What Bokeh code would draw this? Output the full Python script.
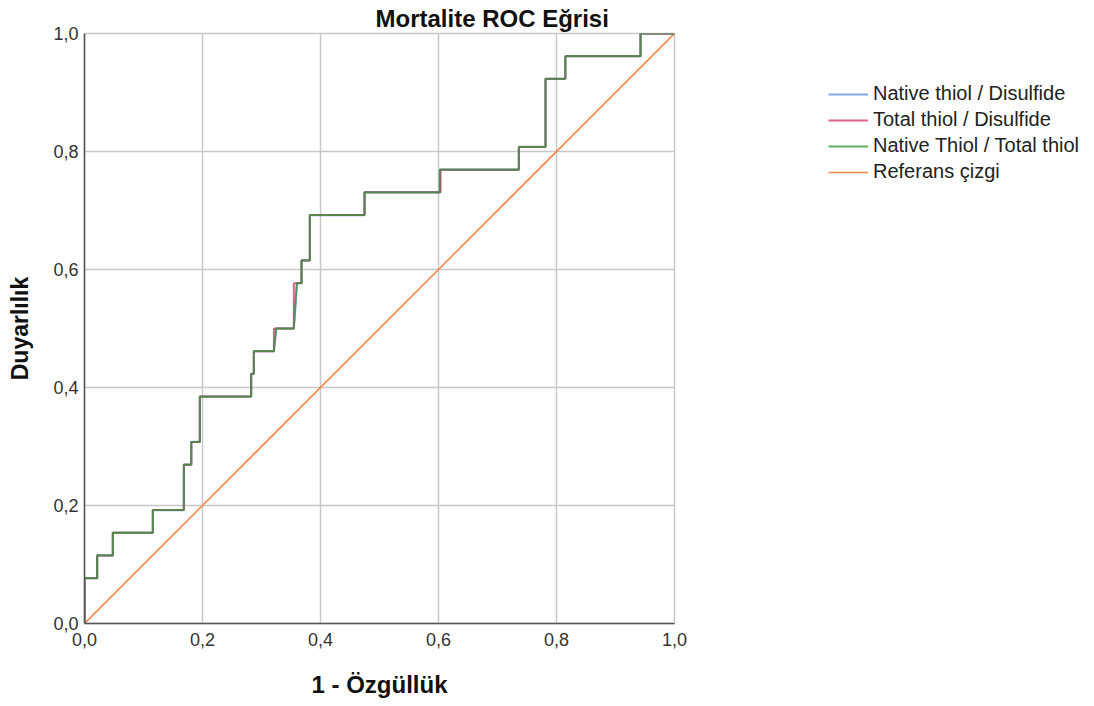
from bokeh.plotting import figure
from bokeh.models import Range1d, Legend, LegendItem, CustomJSTickFormatter, FixedTicker
from bokeh.embed import file_html
from bokeh.resources import INLINE

# Step points of each ROC curve (1 - specificity, sensitivity)
native_disulfide_x = [0.0, 0.0, 0.0215, 0.0215, 0.048, 0.048, 0.1158, 0.1158, 0.1684, 0.1684, 0.181, 0.181,
                      0.1955, 0.1955, 0.2825, 0.2825, 0.287, 0.287, 0.321, 0.325, 0.3548, 0.360, 0.3678, 0.3678,
                      0.3819, 0.3819, 0.4746, 0.4746, 0.6022, 0.6022, 0.7362, 0.7362, 0.7814, 0.7814, 0.815, 0.815,
                      0.9424, 0.9424, 1.0]
native_disulfide_y = [0.0, 0.0769, 0.0769, 0.1154, 0.1154, 0.1538, 0.1538, 0.1923, 0.1923, 0.2692, 0.2692, 0.3077,
                      0.3077, 0.3846, 0.3846, 0.4231, 0.4231, 0.4615, 0.4615, 0.5, 0.5, 0.5769, 0.5769, 0.6154,
                      0.6154, 0.6923, 0.6923, 0.7308, 0.7308, 0.7692, 0.7692, 0.8077, 0.8077, 0.9231, 0.9231, 0.9615,
                      0.9615, 1.0, 1.0]

total_disulfide_x = [0.0, 0.0, 0.0215, 0.0215, 0.048, 0.048, 0.1158, 0.1158, 0.1684, 0.1684, 0.181, 0.181,
                     0.1955, 0.1955, 0.2825, 0.2825, 0.287, 0.287, 0.321, 0.321, 0.3548, 0.3548, 0.3678, 0.3678,
                     0.3819, 0.3819, 0.4746, 0.4746, 0.6035, 0.6035, 0.7362, 0.7362, 0.7814, 0.7814, 0.815, 0.815,
                     0.9424, 0.9424, 1.0]
total_disulfide_y = [0.0, 0.0769, 0.0769, 0.1154, 0.1154, 0.1538, 0.1538, 0.1923, 0.1923, 0.2692, 0.2692, 0.3077,
                     0.3077, 0.3846, 0.3846, 0.4231, 0.4231, 0.4615, 0.4615, 0.5, 0.5, 0.5769, 0.5769, 0.6154,
                     0.6154, 0.6923, 0.6923, 0.7308, 0.7308, 0.7692, 0.7692, 0.8077, 0.8077, 0.9231, 0.9231, 0.9615,
                     0.9615, 1.0, 1.0]

native_total_x = [0.0, 0.0, 0.0215, 0.0215, 0.048, 0.048, 0.1158, 0.1158, 0.1684, 0.1684, 0.181, 0.181,
                  0.1955, 0.1955, 0.2825, 0.2825, 0.287, 0.287, 0.321, 0.325, 0.3548, 0.360, 0.3678, 0.3678,
                  0.3819, 0.3819, 0.4746, 0.4746, 0.6022, 0.6022, 0.7362, 0.7362, 0.7814, 0.7814, 0.815, 0.815,
                  0.9424, 0.9424, 1.0]
native_total_y = [0.0, 0.0769, 0.0769, 0.1154, 0.1154, 0.1538, 0.1538, 0.1923, 0.1923, 0.2692, 0.2692, 0.3077,
                  0.3077, 0.3846, 0.3846, 0.4231, 0.4231, 0.4615, 0.4615, 0.5, 0.5, 0.5769, 0.5769, 0.6154,
                  0.6154, 0.6923, 0.6923, 0.7308, 0.7308, 0.7692, 0.7692, 0.8077, 0.8077, 0.9231, 0.9231, 0.9615,
                  0.9615, 1.0, 1.0]

reference_x = [0.0, 1.0]
reference_y = [0.0, 1.0]

tick_values = [0.0, 0.2, 0.4, 0.6, 0.8, 1.0]
series_names = ["Native thiol / Disulfide", "Total thiol / Disulfide", "Native Thiol / Total thiol", "Referans çizgi"]

FONT = "Liberation Sans"

p = figure(frame_width=590, frame_height=590, output_backend="svg", toolbar_location=None,
           x_range=Range1d(0, 1), y_range=Range1d(0, 1),
           min_border_left=84, min_border_right=0, min_border_top=33, min_border_bottom=79)

p.background_fill_color = "white"
p.border_fill_color = "white"
p.outline_line_color = "#c8c8c8"
p.outline_line_width = 1.5

p.title.text = "Mortalite ROC Eğrisi"
p.title.align = "left"
p.title.offset = 291
p.title.text_font = FONT
p.title.text_font_size = "24px"
p.title.text_font_style = "bold"
p.title.text_color = "#111111"
p.title.standoff = 3

for ax in (p.xaxis[0], p.yaxis[0]):
    ax.ticker = FixedTicker(ticks=tick_values)
    ax.formatter = CustomJSTickFormatter(code="return tick.toFixed(1).replace('.', ',');")
    ax.major_tick_in = 0
    ax.major_tick_out = 0
    ax.minor_tick_in = 0
    ax.minor_tick_out = 0
    ax.axis_line_color = "#555555"
    ax.axis_line_width = 1.5
    ax.major_label_text_font = FONT
    ax.major_label_text_font_size = "18px"
    ax.major_label_text_color = "#333333"
    ax.axis_label_text_font = FONT
    ax.axis_label_text_font_style = "bold"
    ax.axis_label_text_color = "#111111"

p.xaxis.axis_label = "1 - Özgüllük"
p.yaxis.axis_label = "Duyarlılık"
p.xaxis.axis_label_text_font_size = "24px"
p.yaxis.axis_label_text_font_size = "23px"
p.xaxis.major_label_standoff = 9
p.xaxis.axis_label_standoff = 22
p.yaxis.major_label_standoff = 6
p.yaxis.axis_label_standoff = 17

p.grid.ticker = FixedTicker(ticks=tick_values)
p.grid.grid_line_color = "#c8c8c8"
p.grid.grid_line_width = 1.5

r_ref = p.line(reference_x, reference_y, line_color="#f4874b", line_width=1.6)
r_blue = p.line(native_disulfide_x, native_disulfide_y, line_color="#3a78e0", line_width=2.2, line_alpha=0.65)
r_red = p.line(total_disulfide_x, total_disulfide_y, line_color="#d0104a", line_width=2.0, line_alpha=0.65)
r_green = p.line(native_total_x, native_total_y, line_color="#3a9a3a", line_width=1.8, line_alpha=0.8)

legend = Legend(items=[LegendItem(label=series_names[0], renderers=[r_blue]),
                       LegendItem(label=series_names[1], renderers=[r_red]),
                       LegendItem(label=series_names[2], renderers=[r_green]),
                       LegendItem(label=series_names[3], renderers=[r_ref])],
                location=(154, 440), orientation="vertical",
                glyph_width=40, glyph_height=22, label_height=22, spacing=3,
                label_standoff=5, padding=0, margin=0,
                label_text_font=FONT, label_text_font_size="20px", label_text_color="#222222",
                border_line_alpha=0, background_fill_alpha=0)
p.add_layout(legend, "right")

open("out.html", "w").write(file_html(p, INLINE))
